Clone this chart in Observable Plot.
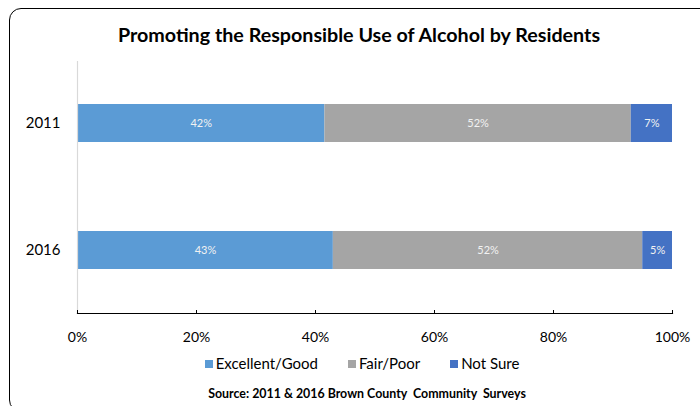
<!DOCTYPE html>
<html><head><meta charset="utf-8">
<script src="https://cdn.jsdelivr.net/npm/d3@7"></script>
<script src="https://cdn.jsdelivr.net/npm/@observablehq/plot@0.6"></script>
<style>
html,body{margin:0;padding:0;background:#fff;width:700px;height:406px;overflow:hidden;font-family:Lato,"Open Sans",sans-serif;color:#000;}
#frame{position:absolute;left:9px;top:8px;width:760px;height:404px;border:1.5px solid #000;border-radius:12px;box-sizing:border-box;}
#title{position:absolute;left:0;width:718px;top:22px;text-align:center;font-weight:bold;font-size:19.7px;line-height:26px;}
#chart{position:absolute;left:0;top:50px;}
#legend{position:absolute;top:354px;left:0;width:724px;text-align:center;font-size:15px;line-height:18px;}
#legend span.item{margin:0 15px;white-space:nowrap;}
#legend span.sw{display:inline-block;width:8px;height:8px;margin-right:3px;vertical-align:1px;}
#source{position:absolute;top:386px;left:0;width:734px;text-align:center;font-size:12.4px;font-weight:bold;white-space:pre;line-height:16px;}
</style></head>
<body>
<div id="frame"></div>
<div id="title">Promoting the Responsible Use of Alcohol by Residents</div>
<div id="chart"></div>
<div id="legend"></div>
<div id="source">Source: 2011 &amp; 2016 Brown County  Community  Surveys</div>
<script>
const years = ["2011", "2016"];
const categories = ["Excellent/Good", "Fair/Poor", "Not Sure"];
const colors = ["#5B9BD5", "#A5A5A5", "#4472C4"];
const values2011 = [42, 52, 7];
const values2016 = [43, 52, 5];
const xTicks = [0, 0.2, 0.4, 0.6, 0.8, 1];

const data = [];
categories.forEach((c, i) => data.push({year: "2011", category: c, value: values2011[i]}));
categories.forEach((c, i) => data.push({year: "2016", category: c, value: values2016[i]}));

const pct = d3.format(".0%");

const chart = Plot.plot({
  width: 700,
  height: 300,
  marginTop: 11,
  marginBottom: 37,
  marginLeft: 77,
  marginRight: 28,
  style: {fontFamily: "Lato, 'Open Sans', sans-serif", color: "#000", background: "transparent"},
  x: {domain: [0, 1], label: null},
  y: {domain: years, paddingInner: 0.698, paddingOuter: 0.337, label: null},
  color: {domain: categories, range: colors},
  marks: [
    Plot.barX(data, Plot.stackX({x: "value", y: "year", fill: "category", order: categories, offset: "normalize"})),
    Plot.text(data, Plot.stackX({x: "value", y: "year", z: "category", order: categories, offset: "normalize",
      text: d => d.value + "%", fill: "#f2f2f2", fontSize: 11})),
    Plot.ruleX([0], {stroke: "#d9d9d9", strokeWidth: 1.2}),
    Plot.frame({anchor: "bottom", stroke: "#000", strokeWidth: 1.2}),
    Plot.axisX({ticks: xTicks, tickSize: -3, text: null, stroke: "#000"}),
    Plot.axisX({ticks: xTicks, tickSize: 0, tickPadding: 19, tickFormat: pct, fontSize: 14, fill: "#000", label: null}),
    Plot.axisY({tickSize: 0, tickPadding: 17, fontSize: 15, fill: "#000", label: null})
  ]
});
document.getElementById("chart").appendChild(chart);

const legend = document.getElementById("legend");
categories.forEach((c, i) => {
  const item = document.createElement("span");
  item.className = "item";
  const sw = document.createElement("span");
  sw.className = "sw";
  sw.style.background = colors[i];
  item.appendChild(sw);
  item.appendChild(document.createTextNode(c));
  legend.appendChild(item);
});
</script>
</body></html>
